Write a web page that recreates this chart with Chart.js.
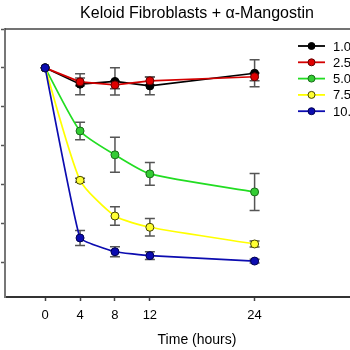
<!DOCTYPE html>
<html>
<head>
<meta charset="utf-8">
<script src="https://cdn.jsdelivr.net/npm/chart.js@4.4.0/dist/chart.umd.min.js"></script>
<style>
  html, body { margin: 0; padding: 0; overflow: hidden; background: #fff; }
  #container { width: 394px; height: 350px; }
</style>
</head>
<body>
<div id="container"><canvas id="chart" width="394" height="350"></canvas></div>
<script>
var hours = [0, 4, 8, 12, 24];
var xTicks = [0, 4, 8, 12, 24];
var yTicks = [0, 20, 40, 60, 80, 100, 120];

var doseLabels = ["1.0 \u00b5M", "2.5 \u00b5M", "5.0 \u00b5M", "7.5 \u00b5M", "10.0 \u00b5M"];

var dose1 = [100, 91.6, 93.0, 90.7, 97.2];
var dose2 = [100, 92.8, 91.2, 93.3, 95.4];
var dose5 = [100, 67.5, 55.2, 45.4, 36.1];
var dose7 = [100, 42.1, 23.7, 17.9, 9.3];
var dose10 = [100, 12.4, 5.3, 3.3, 0.5];

var err1 = [0, 5.4, 7.0, 4.6, 7.0];
var err2 = [0, 2.0, 2.0, 2.0, 2.0];
var err5 = [0, 4.5, 9.0, 5.8, 9.5];
var err7 = [0, 1.0, 4.8, 4.5, 1.5];
var err10 = [0, 3.9, 2.6, 2.0, 1.0];

var lineColors = ["#000000", "#d40000", "#22dd22", "#ffff00", "#0c0cb0"];
var markerFill = ["#000000", "#e00000", "#33cc33", "#ffff33", "#0c0cb0"];
var markerEdge = ["#000000", "#600000", "#1a6a1a", "#444400", "#000050"];
var curve = [0, 0, 0.2, 0.2, 0.1];

var FONT = "Arial, 'Liberation Sans', sans-serif";

function pts(values) {
    return hours.map(function (h, i) { return { x: h, y: values[i] }; });
}

var series = [dose1, dose2, dose5, dose7, dose10];
var errors = [err1, err2, err5, err7, err10];

var datasets = series.map(function (vals, i) {
    return {
        label: doseLabels[i],
        data: pts(vals),
        errors: errors[i],
        borderColor: lineColors[i],
        backgroundColor: markerFill[i],
        pointBackgroundColor: markerFill[i],
        pointBorderColor: markerEdge[i],
        pointBorderWidth: 1,
        pointRadius: 4,
        borderWidth: 1.7,
        tension: curve[i],
        order: 5 - i
    };
});

// gray error bars, drawn under the lines
var errorBars = {
    id: "errorBars",
    beforeDatasetsDraw: function (chart) {
        var ctx = chart.ctx;
        var xs = chart.scales.x, ys = chart.scales.y;
        ctx.save();
        ctx.strokeStyle = "#555555";
        ctx.lineWidth = 1.5;
        chart.data.datasets.forEach(function (ds) {
            ds.data.forEach(function (p, j) {
                var e = ds.errors[j];
                if (!e) return;
                var x = xs.getPixelForValue(p.x);
                var y1 = ys.getPixelForValue(p.y + e);
                var y2 = ys.getPixelForValue(p.y - e);
                ctx.beginPath();
                ctx.moveTo(x, y1); ctx.lineTo(x, y2);
                ctx.moveTo(x - 5, y1); ctx.lineTo(x + 5, y1);
                ctx.moveTo(x - 5, y2); ctx.lineTo(x + 5, y2);
                ctx.stroke();
            });
        });
        ctx.restore();
    }
};

// top frame line and legend inside the plot
var frameLegend = {
    id: "frameLegend",
    afterDraw: function (chart) {
        var ctx = chart.ctx;
        var a = chart.chartArea;
        ctx.save();
        ctx.strokeStyle = "#444444";
        ctx.lineWidth = 1.5;
        ctx.beginPath();
        ctx.moveTo(a.left, a.top);
        ctx.lineTo(a.right, a.top);
        ctx.stroke();

        ctx.font = "13px " + FONT;
        ctx.textBaseline = "middle";
        chart.data.datasets.forEach(function (ds, i) {
            var y = 46 + i * 16.3;
            ctx.strokeStyle = ds.borderColor;
            ctx.lineWidth = 1.8;
            ctx.beginPath();
            ctx.moveTo(298, y); ctx.lineTo(325, y);
            ctx.stroke();
            ctx.beginPath();
            ctx.arc(311.5, y, 3.5, 0, Math.PI * 2);
            ctx.fillStyle = ds.pointBackgroundColor;
            ctx.fill();
            ctx.lineWidth = 1;
            ctx.strokeStyle = ds.pointBorderColor;
            ctx.stroke();
            ctx.fillStyle = "#000000";
            ctx.fillText(ds.label, 333, y + 1);
        });
        ctx.restore();
    }
};

var chart = new Chart(document.getElementById("chart").getContext("2d"), {
    type: "line",
    data: { datasets: datasets },
    plugins: [errorBars, frameLegend],
    options: {
        responsive: false,
        animation: false,
        layout: { padding: 0 },
        plugins: {
            legend: { display: false },
            tooltip: { enabled: false },
            title: {
                display: true,
                text: "Keloid Fibroblasts + \u03b1-Mangostin",
                color: "#000000",
                font: { family: FONT, size: 16, weight: "normal" },
                padding: { top: 4, bottom: 5.8 }
            }
        },
        scales: {
            x: {
                type: "linear",
                min: -4.6,
                max: 39.4,
                afterBuildTicks: function (axis) {
                    axis.ticks = xTicks.map(function (v) { return { value: v }; });
                },
                grid: { drawOnChartArea: false, tickLength: 4, tickColor: "#444444", tickWidth: 1.5 },
                border: { color: "#333333", width: 2 },
                ticks: {
                    color: "#000000",
                    padding: 6.7,
                    maxRotation: 0,
                    autoSkip: false,
                    font: { family: FONT, size: 13 }
                },
                title: {
                    display: true,
                    text: "Time (hours)",
                    color: "#000000",
                    font: { family: FONT, size: 14 },
                    padding: { top: 1.6, bottom: 1.6 }
                }
            },
            y: {
                min: -18,
                max: 120,
                afterBuildTicks: function (axis) {
                    axis.ticks = yTicks.map(function (v) { return { value: v }; });
                },
                grid: { drawOnChartArea: false, tickLength: 4, tickColor: "#555555", tickWidth: 1.5 },
                border: { color: "#777777", width: 2 },
                ticks: { display: false }
            }
        }
    }
});
</script>
</body>
</html>
